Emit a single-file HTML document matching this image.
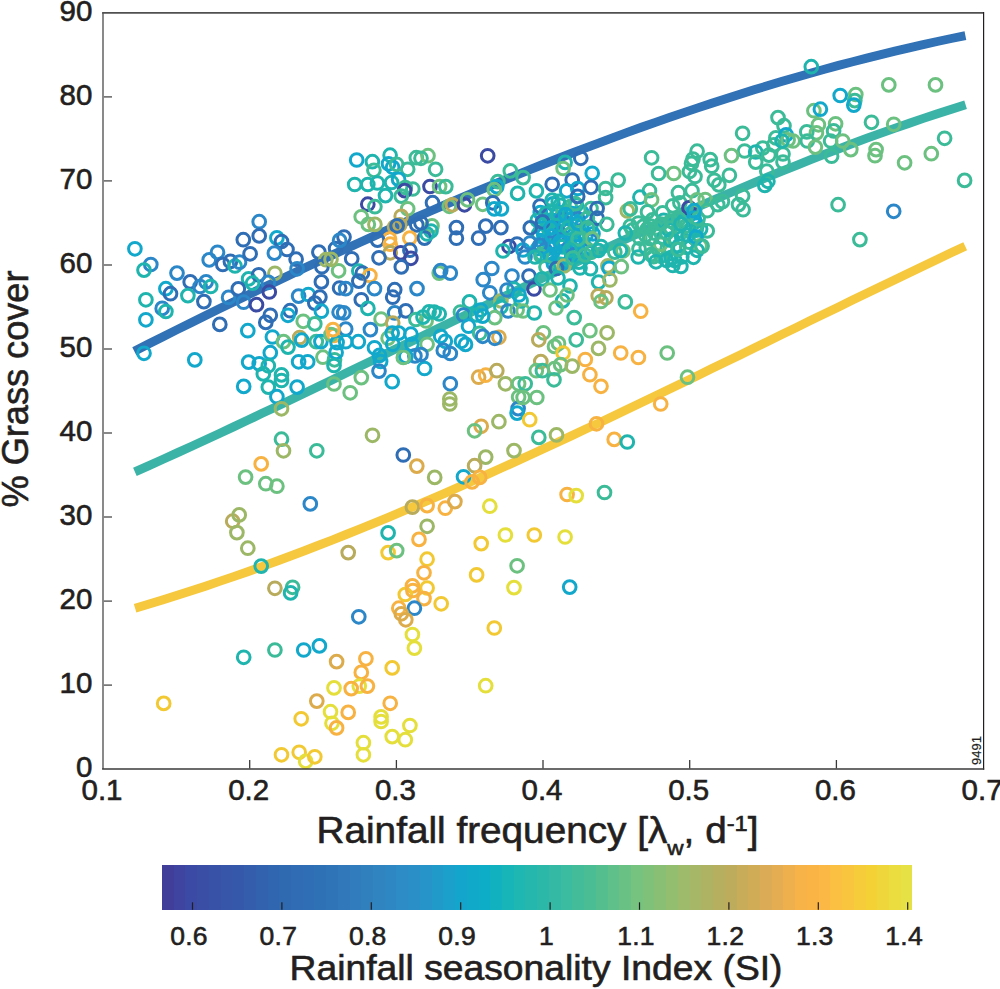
<!DOCTYPE html><html><head><meta charset="utf-8"><style>html,body{margin:0;padding:0;background:#fff;}svg{display:block;}text{font-family:"Liberation Sans",sans-serif;fill:#231f20;stroke:#231f20;stroke-width:0.6px;}</style></head><body>
<svg width="1000" height="989" viewBox="0 0 1000 989">
<path d="M134.3,351.2 L148.4,344.0 L162.5,337.0 L176.6,329.9 L190.6,322.9 L204.7,316.0 L218.8,309.1 L232.9,302.2 L247.0,295.4 L261.1,288.6 L275.2,281.9 L289.3,275.2 L303.3,268.5 L317.4,262.0 L331.5,255.4 L345.6,248.9 L359.7,242.5 L373.8,236.1 L387.9,229.8 L401.9,223.6 L416.0,217.4 L430.1,211.2 L444.2,205.2 L458.3,199.2 L472.4,193.2 L486.5,187.3 L500.5,181.5 L514.6,175.8 L528.7,170.1 L542.8,164.5 L556.9,159.0 L571.0,153.5 L585.1,148.1 L599.2,142.8 L613.2,137.6 L627.3,132.4 L641.4,127.3 L655.5,122.4 L669.6,117.4 L683.7,112.6 L697.8,107.9 L711.8,103.2 L725.9,98.7 L740.0,94.2 L754.1,89.8 L768.2,85.5 L782.3,81.3 L796.4,77.2 L810.4,73.2 L824.5,69.3 L838.6,65.4 L852.7,61.7 L866.8,58.1 L880.9,54.6 L895.0,51.2 L909.1,47.8 L923.1,44.6 L937.2,41.5 L951.3,38.5 L965.4,35.7" fill="none" stroke="#3171b5" stroke-width="8.9" stroke-linecap="butt"/>
<path d="M134.9,471.9 L149.0,465.6 L163.1,459.3 L177.1,452.9 L191.2,446.5 L205.3,440.0 L219.4,433.5 L233.5,426.9 L247.5,420.3 L261.6,413.6 L275.7,406.9 L289.8,400.2 L303.9,393.5 L317.9,386.7 L332.0,379.9 L346.1,373.1 L360.2,366.3 L374.3,359.5 L388.3,352.6 L402.4,345.8 L416.5,339.0 L430.6,332.1 L444.7,325.3 L458.7,318.5 L472.8,311.6 L486.9,304.8 L501.0,298.1 L515.1,291.3 L529.1,284.6 L543.2,277.8 L557.3,271.2 L571.4,264.5 L585.4,257.9 L599.5,251.3 L613.6,244.8 L627.7,238.3 L641.8,231.9 L655.8,225.5 L669.9,219.2 L684.0,212.9 L698.1,206.7 L712.2,200.6 L726.2,194.5 L740.3,188.5 L754.4,182.6 L768.5,176.7 L782.6,170.9 L796.6,165.3 L810.7,159.7 L824.8,154.2 L838.9,148.8 L853.0,143.4 L867.0,138.2 L881.1,133.1 L895.2,128.1 L909.3,123.2 L923.4,118.4 L937.4,113.8 L951.5,109.2 L965.6,104.8" fill="none" stroke="#3bb4a7" stroke-width="8.9" stroke-linecap="butt"/>
<path d="M135.1,608.2 L149.2,604.0 L163.2,599.7 L177.3,595.3 L191.4,590.8 L205.4,586.2 L219.5,581.4 L233.6,576.6 L247.7,571.7 L261.7,566.6 L275.8,561.5 L289.9,556.3 L303.9,551.0 L318.0,545.5 L332.1,540.1 L346.1,534.5 L360.2,528.8 L374.3,523.1 L388.4,517.3 L402.4,511.4 L416.5,505.4 L430.6,499.4 L444.6,493.3 L458.7,487.1 L472.8,480.9 L486.8,474.6 L500.9,468.3 L515.0,461.9 L529.0,455.5 L543.1,449.0 L557.2,442.5 L571.3,435.9 L585.3,429.3 L599.4,422.7 L613.5,416.0 L627.5,409.3 L641.6,402.6 L655.7,395.8 L669.7,389.1 L683.8,382.3 L697.9,375.5 L711.9,368.6 L726.0,361.8 L740.1,354.9 L754.2,348.1 L768.2,341.2 L782.3,334.3 L796.4,327.5 L810.4,320.6 L824.5,313.8 L838.6,306.9 L852.6,300.1 L866.7,293.3 L880.8,286.5 L894.9,279.7 L908.9,272.9 L923.0,266.2 L937.1,259.5 L951.1,252.8 L965.2,246.2" fill="none" stroke="#f6c83e" stroke-width="8.9" stroke-linecap="butt"/>
<g fill="none" stroke-width="3.0">
<circle cx="552.9" cy="203.9" r="6.35" stroke="#12a8cc"/>
<circle cx="560.2" cy="205.3" r="6.35" stroke="#1fb5ae"/>
<circle cx="570.2" cy="206.7" r="6.35" stroke="#3cbb98"/>
<circle cx="576.4" cy="205.0" r="6.35" stroke="#1fb5ae"/>
<circle cx="540.3" cy="212.6" r="6.35" stroke="#12a8cc"/>
<circle cx="550.6" cy="211.0" r="6.35" stroke="#3cbb98"/>
<circle cx="558.1" cy="212.7" r="6.35" stroke="#12a8cc"/>
<circle cx="566.1" cy="212.0" r="6.35" stroke="#3cbb98"/>
<circle cx="572.4" cy="213.7" r="6.35" stroke="#12a8cc"/>
<circle cx="581.9" cy="212.5" r="6.35" stroke="#12a8cc"/>
<circle cx="537.3" cy="220.3" r="6.35" stroke="#1fb5ae"/>
<circle cx="545.6" cy="220.1" r="6.35" stroke="#1fb5ae"/>
<circle cx="552.1" cy="220.4" r="6.35" stroke="#12a8cc"/>
<circle cx="562.1" cy="219.6" r="6.35" stroke="#2b87c8"/>
<circle cx="570.9" cy="219.5" r="6.35" stroke="#12a8cc"/>
<circle cx="577.6" cy="218.7" r="6.35" stroke="#2b87c8"/>
<circle cx="587.0" cy="218.7" r="6.35" stroke="#12a8cc"/>
<circle cx="541.3" cy="228.2" r="6.35" stroke="#12a8cc"/>
<circle cx="548.6" cy="228.5" r="6.35" stroke="#1fb5ae"/>
<circle cx="557.6" cy="225.6" r="6.35" stroke="#1fb5ae"/>
<circle cx="564.5" cy="226.8" r="6.35" stroke="#12a8cc"/>
<circle cx="575.7" cy="225.3" r="6.35" stroke="#1fb5ae"/>
<circle cx="581.6" cy="226.3" r="6.35" stroke="#12a8cc"/>
<circle cx="590.7" cy="226.6" r="6.35" stroke="#1fb5ae"/>
<circle cx="538.7" cy="233.9" r="6.35" stroke="#1fb5ae"/>
<circle cx="543.7" cy="234.7" r="6.35" stroke="#12a8cc"/>
<circle cx="552.7" cy="233.6" r="6.35" stroke="#1fb5ae"/>
<circle cx="560.0" cy="233.9" r="6.35" stroke="#2b87c8"/>
<circle cx="570.3" cy="234.0" r="6.35" stroke="#3cbb98"/>
<circle cx="579.1" cy="232.7" r="6.35" stroke="#3cbb98"/>
<circle cx="585.9" cy="235.5" r="6.35" stroke="#12a8cc"/>
<circle cx="593.0" cy="233.8" r="6.35" stroke="#12a8cc"/>
<circle cx="542.6" cy="242.3" r="6.35" stroke="#12a8cc"/>
<circle cx="550.1" cy="243.0" r="6.35" stroke="#2b87c8"/>
<circle cx="559.2" cy="239.9" r="6.35" stroke="#2b87c8"/>
<circle cx="564.5" cy="241.8" r="6.35" stroke="#12a8cc"/>
<circle cx="573.9" cy="241.5" r="6.35" stroke="#12a8cc"/>
<circle cx="581.4" cy="239.9" r="6.35" stroke="#1fb5ae"/>
<circle cx="590.8" cy="240.5" r="6.35" stroke="#2b87c8"/>
<circle cx="537.8" cy="248.5" r="6.35" stroke="#12a8cc"/>
<circle cx="545.1" cy="249.7" r="6.35" stroke="#2b87c8"/>
<circle cx="553.1" cy="248.0" r="6.35" stroke="#12a8cc"/>
<circle cx="562.2" cy="246.8" r="6.35" stroke="#1fb5ae"/>
<circle cx="571.6" cy="248.2" r="6.35" stroke="#1fb5ae"/>
<circle cx="577.5" cy="246.8" r="6.35" stroke="#12a8cc"/>
<circle cx="586.5" cy="248.5" r="6.35" stroke="#1fb5ae"/>
<circle cx="541.6" cy="254.1" r="6.35" stroke="#3cbb98"/>
<circle cx="549.8" cy="254.3" r="6.35" stroke="#12a8cc"/>
<circle cx="559.2" cy="256.0" r="6.35" stroke="#12a8cc"/>
<circle cx="564.4" cy="256.9" r="6.35" stroke="#12a8cc"/>
<circle cx="573.9" cy="254.9" r="6.35" stroke="#2b87c8"/>
<circle cx="580.8" cy="255.0" r="6.35" stroke="#12a8cc"/>
<circle cx="553.4" cy="263.5" r="6.35" stroke="#12a8cc"/>
<circle cx="560.6" cy="264.4" r="6.35" stroke="#1fb5ae"/>
<circle cx="568.6" cy="263.0" r="6.35" stroke="#12a8cc"/>
<circle cx="579.0" cy="262.1" r="6.35" stroke="#1fb5ae"/>
<circle cx="652.5" cy="219.9" r="6.35" stroke="#3cbb98"/>
<circle cx="663.7" cy="220.3" r="6.35" stroke="#1fb5ae"/>
<circle cx="672.9" cy="221.8" r="6.35" stroke="#3cbb98"/>
<circle cx="683.7" cy="221.2" r="6.35" stroke="#1fb5ae"/>
<circle cx="694.9" cy="221.9" r="6.35" stroke="#1fb5ae"/>
<circle cx="647.6" cy="228.5" r="6.35" stroke="#3cbb98"/>
<circle cx="656.5" cy="227.9" r="6.35" stroke="#3cbb98"/>
<circle cx="668.5" cy="229.5" r="6.35" stroke="#1fb5ae"/>
<circle cx="678.7" cy="231.2" r="6.35" stroke="#3cbb98"/>
<circle cx="689.6" cy="230.4" r="6.35" stroke="#3cbb98"/>
<circle cx="700.6" cy="229.1" r="6.35" stroke="#1fb5ae"/>
<circle cx="639.8" cy="238.3" r="6.35" stroke="#3cbb98"/>
<circle cx="650.7" cy="238.8" r="6.35" stroke="#6dc180"/>
<circle cx="663.5" cy="238.3" r="6.35" stroke="#1fb5ae"/>
<circle cx="672.2" cy="238.9" r="6.35" stroke="#1fb5ae"/>
<circle cx="681.9" cy="238.0" r="6.35" stroke="#1fb5ae"/>
<circle cx="694.7" cy="238.3" r="6.35" stroke="#1fb5ae"/>
<circle cx="646.3" cy="247.7" r="6.35" stroke="#3cbb98"/>
<circle cx="658.1" cy="248.9" r="6.35" stroke="#3cbb98"/>
<circle cx="667.4" cy="248.1" r="6.35" stroke="#3cbb98"/>
<circle cx="678.8" cy="246.0" r="6.35" stroke="#1fb5ae"/>
<circle cx="686.8" cy="247.5" r="6.35" stroke="#3cbb98"/>
<circle cx="700.1" cy="245.9" r="6.35" stroke="#6dc180"/>
<circle cx="653.5" cy="256.6" r="6.35" stroke="#3cbb98"/>
<circle cx="661.0" cy="256.2" r="6.35" stroke="#3cbb98"/>
<circle cx="671.0" cy="257.7" r="6.35" stroke="#1fb5ae"/>
<circle cx="681.8" cy="256.9" r="6.35" stroke="#1fb5ae"/>
<circle cx="693.5" cy="257.3" r="6.35" stroke="#1fb5ae"/>
<circle cx="134.9" cy="248.8" r="6.35" stroke="#12a8cc"/>
<circle cx="150.8" cy="264.5" r="6.35" stroke="#2b87c8"/>
<circle cx="144.0" cy="270.1" r="6.35" stroke="#1fb5ae"/>
<circle cx="177.0" cy="273.1" r="6.35" stroke="#2b87c8"/>
<circle cx="145.9" cy="299.8" r="6.35" stroke="#1fb5ae"/>
<circle cx="165.9" cy="288.7" r="6.35" stroke="#12a8cc"/>
<circle cx="170.5" cy="293.7" r="6.35" stroke="#2f6db4"/>
<circle cx="162.2" cy="308.4" r="6.35" stroke="#2b87c8"/>
<circle cx="165.9" cy="311.5" r="6.35" stroke="#1fb5ae"/>
<circle cx="145.9" cy="319.8" r="6.35" stroke="#12a8cc"/>
<circle cx="190.2" cy="281.9" r="6.35" stroke="#2f6db4"/>
<circle cx="187.9" cy="295.6" r="6.35" stroke="#1fb5ae"/>
<circle cx="203.9" cy="301.6" r="6.35" stroke="#2f6db4"/>
<circle cx="200.1" cy="286.5" r="6.35" stroke="#2b87c8"/>
<circle cx="206.1" cy="281.9" r="6.35" stroke="#2b87c8"/>
<circle cx="210.7" cy="286.5" r="6.35" stroke="#1fb5ae"/>
<circle cx="209.2" cy="259.9" r="6.35" stroke="#2b87c8"/>
<circle cx="217.5" cy="252.3" r="6.35" stroke="#2b87c8"/>
<circle cx="222.8" cy="264.5" r="6.35" stroke="#2f6db4"/>
<circle cx="230.4" cy="261.4" r="6.35" stroke="#2f6db4"/>
<circle cx="235.0" cy="266.0" r="6.35" stroke="#1fb5ae"/>
<circle cx="239.5" cy="262.2" r="6.35" stroke="#2b87c8"/>
<circle cx="243.3" cy="239.7" r="6.35" stroke="#2f6db4"/>
<circle cx="250.1" cy="253.8" r="6.35" stroke="#2f6db4"/>
<circle cx="219.8" cy="324.4" r="6.35" stroke="#2f6db4"/>
<circle cx="247.8" cy="330.7" r="6.35" stroke="#12a8cc"/>
<circle cx="248.6" cy="278.9" r="6.35" stroke="#1fb5ae"/>
<circle cx="144.0" cy="353.3" r="6.35" stroke="#12a8cc"/>
<circle cx="194.8" cy="359.9" r="6.35" stroke="#12a8cc"/>
<circle cx="248.6" cy="362.1" r="6.35" stroke="#12a8cc"/>
<circle cx="243.7" cy="386.4" r="6.35" stroke="#12a8cc"/>
<circle cx="245.6" cy="477.1" r="6.35" stroke="#6dc180"/>
<circle cx="232.7" cy="521.2" r="6.35" stroke="#b8ab5b"/>
<circle cx="239.2" cy="514.9" r="6.35" stroke="#9cb866"/>
<circle cx="236.9" cy="532.6" r="6.35" stroke="#9cb866"/>
<circle cx="247.8" cy="548.2" r="6.35" stroke="#9cb866"/>
<circle cx="243.7" cy="657.3" r="6.35" stroke="#1fb5ae"/>
<circle cx="163.7" cy="703.4" r="6.35" stroke="#f2c933"/>
<circle cx="356.7" cy="160.0" r="6.35" stroke="#12a8cc"/>
<circle cx="372.4" cy="161.7" r="6.35" stroke="#1fb5ae"/>
<circle cx="373.9" cy="170.3" r="6.35" stroke="#3cbb98"/>
<circle cx="390.1" cy="155.2" r="6.35" stroke="#1fb5ae"/>
<circle cx="388.5" cy="163.8" r="6.35" stroke="#12a8cc"/>
<circle cx="392.6" cy="167.3" r="6.35" stroke="#12a8cc"/>
<circle cx="396.6" cy="164.3" r="6.35" stroke="#3cbb98"/>
<circle cx="407.7" cy="169.3" r="6.35" stroke="#3cbb98"/>
<circle cx="416.3" cy="157.7" r="6.35" stroke="#3cbb98"/>
<circle cx="428.0" cy="155.7" r="6.35" stroke="#6dc180"/>
<circle cx="435.6" cy="169.3" r="6.35" stroke="#3cbb98"/>
<circle cx="354.7" cy="184.5" r="6.35" stroke="#1fb5ae"/>
<circle cx="367.8" cy="184.5" r="6.35" stroke="#1fb5ae"/>
<circle cx="377.4" cy="183.0" r="6.35" stroke="#1fb5ae"/>
<circle cx="391.6" cy="182.5" r="6.35" stroke="#1fb5ae"/>
<circle cx="398.6" cy="179.4" r="6.35" stroke="#12a8cc"/>
<circle cx="405.2" cy="187.5" r="6.35" stroke="#3cbb98"/>
<circle cx="412.8" cy="189.0" r="6.35" stroke="#3cbb98"/>
<circle cx="404.7" cy="190.6" r="6.35" stroke="#3b4aa2"/>
<circle cx="430.0" cy="186.5" r="6.35" stroke="#3b4aa2"/>
<circle cx="385.5" cy="195.6" r="6.35" stroke="#1fb5ae"/>
<circle cx="401.2" cy="196.1" r="6.35" stroke="#3cbb98"/>
<circle cx="367.8" cy="204.2" r="6.35" stroke="#3b4aa2"/>
<circle cx="374.9" cy="206.7" r="6.35" stroke="#3cbb98"/>
<circle cx="407.7" cy="208.8" r="6.35" stroke="#6dc180"/>
<circle cx="361.2" cy="216.8" r="6.35" stroke="#6dc180"/>
<circle cx="368.3" cy="224.4" r="6.35" stroke="#6dc180"/>
<circle cx="374.9" cy="224.4" r="6.35" stroke="#9cb866"/>
<circle cx="394.6" cy="227.0" r="6.35" stroke="#b8ab5b"/>
<circle cx="401.2" cy="216.3" r="6.35" stroke="#b8ab5b"/>
<circle cx="399.7" cy="224.9" r="6.35" stroke="#b8ab5b"/>
<circle cx="397.1" cy="225.9" r="6.35" stroke="#2f6db4"/>
<circle cx="432.5" cy="202.7" r="6.35" stroke="#2f6db4"/>
<circle cx="416.8" cy="224.9" r="6.35" stroke="#2f6db4"/>
<circle cx="432.0" cy="225.9" r="6.35" stroke="#6dc180"/>
<circle cx="431.0" cy="231.0" r="6.35" stroke="#1fb5ae"/>
<circle cx="344.0" cy="237.1" r="6.35" stroke="#2f6db4"/>
<circle cx="389.5" cy="239.1" r="6.35" stroke="#f7b241"/>
<circle cx="409.8" cy="238.1" r="6.35" stroke="#f7b241"/>
<circle cx="439.6" cy="186.5" r="6.35" stroke="#6dc180"/>
<circle cx="259.2" cy="221.7" r="6.35" stroke="#2b87c8"/>
<circle cx="259.2" cy="235.9" r="6.35" stroke="#2f6db4"/>
<circle cx="276.9" cy="237.9" r="6.35" stroke="#12a8cc"/>
<circle cx="281.5" cy="241.5" r="6.35" stroke="#2f6db4"/>
<circle cx="287.0" cy="249.5" r="6.35" stroke="#2f6db4"/>
<circle cx="274.4" cy="253.1" r="6.35" stroke="#2b87c8"/>
<circle cx="296.1" cy="259.2" r="6.35" stroke="#2f6db4"/>
<circle cx="297.1" cy="268.8" r="6.35" stroke="#2b87c8"/>
<circle cx="318.9" cy="252.1" r="6.35" stroke="#2f6db4"/>
<circle cx="325.9" cy="259.7" r="6.35" stroke="#9cb866"/>
<circle cx="321.9" cy="266.7" r="6.35" stroke="#2f6db4"/>
<circle cx="335.6" cy="248.5" r="6.35" stroke="#2f6db4"/>
<circle cx="339.6" cy="240.4" r="6.35" stroke="#2b87c8"/>
<circle cx="338.6" cy="270.8" r="6.35" stroke="#6dc180"/>
<circle cx="321.4" cy="281.9" r="6.35" stroke="#2f6db4"/>
<circle cx="339.6" cy="288.0" r="6.35" stroke="#2f6db4"/>
<circle cx="274.9" cy="273.3" r="6.35" stroke="#9cb866"/>
<circle cx="258.7" cy="274.8" r="6.35" stroke="#2f6db4"/>
<circle cx="268.3" cy="282.4" r="6.35" stroke="#2b87c8"/>
<circle cx="269.3" cy="292.0" r="6.35" stroke="#3b4aa2"/>
<circle cx="298.6" cy="296.1" r="6.35" stroke="#2b87c8"/>
<circle cx="308.3" cy="294.5" r="6.35" stroke="#12a8cc"/>
<circle cx="319.9" cy="297.1" r="6.35" stroke="#2f6db4"/>
<circle cx="270.3" cy="315.3" r="6.35" stroke="#2f6db4"/>
<circle cx="265.8" cy="322.4" r="6.35" stroke="#2f6db4"/>
<circle cx="290.1" cy="310.7" r="6.35" stroke="#2f6db4"/>
<circle cx="288.0" cy="315.3" r="6.35" stroke="#12a8cc"/>
<circle cx="314.8" cy="303.1" r="6.35" stroke="#2f6db4"/>
<circle cx="321.4" cy="311.2" r="6.35" stroke="#12a8cc"/>
<circle cx="339.1" cy="312.2" r="6.35" stroke="#2b87c8"/>
<circle cx="303.2" cy="321.3" r="6.35" stroke="#6dc180"/>
<circle cx="314.8" cy="323.9" r="6.35" stroke="#3cbb98"/>
<circle cx="272.4" cy="337.0" r="6.35" stroke="#12a8cc"/>
<circle cx="283.5" cy="341.6" r="6.35" stroke="#6dc180"/>
<circle cx="288.0" cy="347.1" r="6.35" stroke="#1fb5ae"/>
<circle cx="299.7" cy="337.5" r="6.35" stroke="#b8ab5b"/>
<circle cx="301.7" cy="340.1" r="6.35" stroke="#12a8cc"/>
<circle cx="316.3" cy="341.6" r="6.35" stroke="#3cbb98"/>
<circle cx="320.9" cy="341.6" r="6.35" stroke="#12a8cc"/>
<circle cx="334.0" cy="335.5" r="6.35" stroke="#f7b241"/>
<circle cx="331.0" cy="334.5" r="6.35" stroke="#6dc180"/>
<circle cx="337.1" cy="342.6" r="6.35" stroke="#12a8cc"/>
<circle cx="270.3" cy="352.7" r="6.35" stroke="#12a8cc"/>
<circle cx="259.2" cy="363.8" r="6.35" stroke="#12a8cc"/>
<circle cx="268.3" cy="365.8" r="6.35" stroke="#1fb5ae"/>
<circle cx="263.3" cy="373.9" r="6.35" stroke="#1fb5ae"/>
<circle cx="281.5" cy="374.9" r="6.35" stroke="#1fb5ae"/>
<circle cx="298.6" cy="361.8" r="6.35" stroke="#12a8cc"/>
<circle cx="307.7" cy="361.8" r="6.35" stroke="#12a8cc"/>
<circle cx="322.9" cy="357.2" r="6.35" stroke="#6dc180"/>
<circle cx="334.5" cy="359.8" r="6.35" stroke="#3cbb98"/>
<circle cx="268.3" cy="387.1" r="6.35" stroke="#1fb5ae"/>
<circle cx="297.1" cy="387.1" r="6.35" stroke="#12a8cc"/>
<circle cx="334.0" cy="384.0" r="6.35" stroke="#6dc180"/>
<circle cx="281.5" cy="380.5" r="6.35" stroke="#1fb5ae"/>
<circle cx="276.9" cy="396.7" r="6.35" stroke="#12a8cc"/>
<circle cx="281.5" cy="408.8" r="6.35" stroke="#9cb866"/>
<circle cx="281.5" cy="439.2" r="6.35" stroke="#3cbb98"/>
<circle cx="283.5" cy="450.8" r="6.35" stroke="#9cb866"/>
<circle cx="316.8" cy="450.8" r="6.35" stroke="#3cbb98"/>
<circle cx="261.2" cy="463.9" r="6.35" stroke="#f7b241"/>
<circle cx="265.8" cy="483.7" r="6.35" stroke="#6dc180"/>
<circle cx="276.9" cy="486.2" r="6.35" stroke="#6dc180"/>
<circle cx="310.3" cy="503.9" r="6.35" stroke="#2b87c8"/>
<circle cx="261.2" cy="566.1" r="6.35" stroke="#1fb5ae"/>
<circle cx="274.9" cy="588.3" r="6.35" stroke="#b8ab5b"/>
<circle cx="292.6" cy="587.3" r="6.35" stroke="#3cbb98"/>
<circle cx="290.6" cy="592.9" r="6.35" stroke="#1fb5ae"/>
<circle cx="274.9" cy="650.0" r="6.35" stroke="#3cbb98"/>
<circle cx="303.7" cy="650.0" r="6.35" stroke="#12a8cc"/>
<circle cx="319.4" cy="645.9" r="6.35" stroke="#12a8cc"/>
<circle cx="336.6" cy="661.6" r="6.35" stroke="#dcab4c"/>
<circle cx="334.0" cy="687.9" r="6.35" stroke="#e5df3c"/>
<circle cx="316.8" cy="701.1" r="6.35" stroke="#dcab4c"/>
<circle cx="301.2" cy="718.8" r="6.35" stroke="#f2c933"/>
<circle cx="330.5" cy="711.7" r="6.35" stroke="#e5df3c"/>
<circle cx="332.0" cy="723.3" r="6.35" stroke="#e5df3c"/>
<circle cx="336.6" cy="727.9" r="6.35" stroke="#f7b241"/>
<circle cx="281.5" cy="754.8" r="6.35" stroke="#f2c933"/>
<circle cx="299.2" cy="752.3" r="6.35" stroke="#f2c933"/>
<circle cx="305.7" cy="761.4" r="6.35" stroke="#e5df3c"/>
<circle cx="314.8" cy="756.8" r="6.35" stroke="#f2c933"/>
<circle cx="351.7" cy="258.8" r="6.35" stroke="#2f6db4"/>
<circle cx="331.0" cy="259.3" r="6.35" stroke="#9cb866"/>
<circle cx="377.5" cy="240.1" r="6.35" stroke="#2f6db4"/>
<circle cx="390.2" cy="244.2" r="6.35" stroke="#f7b241"/>
<circle cx="390.2" cy="252.8" r="6.35" stroke="#b8ab5b"/>
<circle cx="400.8" cy="252.8" r="6.35" stroke="#3b4aa2"/>
<circle cx="409.9" cy="250.2" r="6.35" stroke="#2f6db4"/>
<circle cx="410.9" cy="258.3" r="6.35" stroke="#3b4aa2"/>
<circle cx="379.0" cy="257.8" r="6.35" stroke="#2f6db4"/>
<circle cx="401.3" cy="266.9" r="6.35" stroke="#2f6db4"/>
<circle cx="424.5" cy="238.1" r="6.35" stroke="#2f6db4"/>
<circle cx="427.1" cy="234.0" r="6.35" stroke="#1fb5ae"/>
<circle cx="358.8" cy="271.0" r="6.35" stroke="#1fb5ae"/>
<circle cx="362.4" cy="273.0" r="6.35" stroke="#2f6db4"/>
<circle cx="369.9" cy="275.5" r="6.35" stroke="#f7b241"/>
<circle cx="358.8" cy="281.1" r="6.35" stroke="#2f6db4"/>
<circle cx="345.7" cy="288.6" r="6.35" stroke="#2b87c8"/>
<circle cx="374.5" cy="288.6" r="6.35" stroke="#2b87c8"/>
<circle cx="394.7" cy="289.7" r="6.35" stroke="#2f6db4"/>
<circle cx="392.7" cy="297.2" r="6.35" stroke="#2f6db4"/>
<circle cx="417.0" cy="288.6" r="6.35" stroke="#2b87c8"/>
<circle cx="361.3" cy="299.8" r="6.35" stroke="#2f6db4"/>
<circle cx="367.9" cy="308.4" r="6.35" stroke="#1fb5ae"/>
<circle cx="343.7" cy="312.9" r="6.35" stroke="#2b87c8"/>
<circle cx="394.7" cy="312.9" r="6.35" stroke="#2b87c8"/>
<circle cx="405.8" cy="310.9" r="6.35" stroke="#2f6db4"/>
<circle cx="381.1" cy="319.0" r="6.35" stroke="#6dc180"/>
<circle cx="392.7" cy="323.0" r="6.35" stroke="#b8ab5b"/>
<circle cx="415.9" cy="319.5" r="6.35" stroke="#3cbb98"/>
<circle cx="426.1" cy="321.0" r="6.35" stroke="#6dc180"/>
<circle cx="429.1" cy="311.9" r="6.35" stroke="#1fb5ae"/>
<circle cx="345.7" cy="329.1" r="6.35" stroke="#2b87c8"/>
<circle cx="370.4" cy="329.6" r="6.35" stroke="#2b87c8"/>
<circle cx="333.0" cy="329.6" r="6.35" stroke="#f7b241"/>
<circle cx="358.3" cy="341.7" r="6.35" stroke="#12a8cc"/>
<circle cx="345.7" cy="341.7" r="6.35" stroke="#12a8cc"/>
<circle cx="336.1" cy="352.4" r="6.35" stroke="#12a8cc"/>
<circle cx="334.0" cy="365.5" r="6.35" stroke="#1fb5ae"/>
<circle cx="374.5" cy="347.8" r="6.35" stroke="#12a8cc"/>
<circle cx="379.5" cy="355.4" r="6.35" stroke="#12a8cc"/>
<circle cx="380.6" cy="361.5" r="6.35" stroke="#12a8cc"/>
<circle cx="379.0" cy="371.1" r="6.35" stroke="#2b87c8"/>
<circle cx="392.2" cy="381.7" r="6.35" stroke="#12a8cc"/>
<circle cx="388.1" cy="338.2" r="6.35" stroke="#6dc180"/>
<circle cx="392.2" cy="333.1" r="6.35" stroke="#12a8cc"/>
<circle cx="410.9" cy="334.2" r="6.35" stroke="#12a8cc"/>
<circle cx="411.9" cy="344.3" r="6.35" stroke="#12a8cc"/>
<circle cx="414.9" cy="355.9" r="6.35" stroke="#2b87c8"/>
<circle cx="405.8" cy="356.4" r="6.35" stroke="#12a8cc"/>
<circle cx="403.3" cy="357.4" r="6.35" stroke="#6dc180"/>
<circle cx="427.1" cy="344.3" r="6.35" stroke="#6dc180"/>
<circle cx="424.5" cy="368.5" r="6.35" stroke="#12a8cc"/>
<circle cx="392.7" cy="344.3" r="6.35" stroke="#12a8cc"/>
<circle cx="361.3" cy="377.6" r="6.35" stroke="#6dc180"/>
<circle cx="350.2" cy="392.8" r="6.35" stroke="#6dc180"/>
<circle cx="398.8" cy="333.1" r="6.35" stroke="#12a8cc"/>
<circle cx="372.5" cy="435.3" r="6.35" stroke="#9cb866"/>
<circle cx="403.3" cy="455.0" r="6.35" stroke="#2f6db4"/>
<circle cx="416.8" cy="466.1" r="6.35" stroke="#dcab4c"/>
<circle cx="412.4" cy="507.1" r="6.35" stroke="#b8ab5b"/>
<circle cx="427.1" cy="505.6" r="6.35" stroke="#f7b241"/>
<circle cx="427.1" cy="526.3" r="6.35" stroke="#9cb866"/>
<circle cx="388.1" cy="532.9" r="6.35" stroke="#1fb5ae"/>
<circle cx="419.0" cy="539.4" r="6.35" stroke="#f7b241"/>
<circle cx="348.2" cy="552.6" r="6.35" stroke="#b8ab5b"/>
<circle cx="388.1" cy="552.6" r="6.35" stroke="#f2c933"/>
<circle cx="396.7" cy="550.6" r="6.35" stroke="#6dc180"/>
<circle cx="427.1" cy="559.2" r="6.35" stroke="#f2c933"/>
<circle cx="424.0" cy="572.8" r="6.35" stroke="#f7b241"/>
<circle cx="412.4" cy="585.9" r="6.35" stroke="#f7b241"/>
<circle cx="405.3" cy="594.5" r="6.35" stroke="#f2c933"/>
<circle cx="427.1" cy="588.0" r="6.35" stroke="#f2c933"/>
<circle cx="424.0" cy="598.6" r="6.35" stroke="#f7b241"/>
<circle cx="358.8" cy="616.8" r="6.35" stroke="#2b87c8"/>
<circle cx="412.9" cy="590.5" r="6.35" stroke="#f7b241"/>
<circle cx="414.4" cy="608.2" r="6.35" stroke="#2b87c8"/>
<circle cx="398.8" cy="608.2" r="6.35" stroke="#f7b241"/>
<circle cx="401.3" cy="613.8" r="6.35" stroke="#dcab4c"/>
<circle cx="405.8" cy="619.8" r="6.35" stroke="#dcab4c"/>
<circle cx="412.4" cy="634.5" r="6.35" stroke="#e5df3c"/>
<circle cx="414.4" cy="648.1" r="6.35" stroke="#e5df3c"/>
<circle cx="365.9" cy="658.8" r="6.35" stroke="#f7b241"/>
<circle cx="361.3" cy="672.4" r="6.35" stroke="#f7b241"/>
<circle cx="392.2" cy="667.9" r="6.35" stroke="#f2c933"/>
<circle cx="359.3" cy="686.1" r="6.35" stroke="#e5df3c"/>
<circle cx="367.4" cy="686.1" r="6.35" stroke="#f7b241"/>
<circle cx="351.2" cy="688.6" r="6.35" stroke="#f7b241"/>
<circle cx="348.2" cy="712.4" r="6.35" stroke="#f7b241"/>
<circle cx="390.2" cy="703.3" r="6.35" stroke="#f7b241"/>
<circle cx="381.1" cy="716.9" r="6.35" stroke="#e5df3c"/>
<circle cx="381.1" cy="721.5" r="6.35" stroke="#e5df3c"/>
<circle cx="409.9" cy="725.5" r="6.35" stroke="#e5df3c"/>
<circle cx="392.2" cy="736.6" r="6.35" stroke="#e5df3c"/>
<circle cx="405.3" cy="739.7" r="6.35" stroke="#e5df3c"/>
<circle cx="363.4" cy="742.7" r="6.35" stroke="#e5df3c"/>
<circle cx="363.4" cy="754.8" r="6.35" stroke="#e5df3c"/>
<circle cx="421.0" cy="158.3" r="6.35" stroke="#3cbb98"/>
<circle cx="445.8" cy="186.6" r="6.35" stroke="#3cbb98"/>
<circle cx="487.7" cy="155.8" r="6.35" stroke="#3b4aa2"/>
<circle cx="497.9" cy="181.6" r="6.35" stroke="#3cbb98"/>
<circle cx="496.8" cy="186.6" r="6.35" stroke="#12a8cc"/>
<circle cx="494.3" cy="189.7" r="6.35" stroke="#6dc180"/>
<circle cx="449.3" cy="206.3" r="6.35" stroke="#6dc180"/>
<circle cx="452.4" cy="204.8" r="6.35" stroke="#b8ab5b"/>
<circle cx="464.5" cy="204.8" r="6.35" stroke="#3b4aa2"/>
<circle cx="467.5" cy="199.8" r="6.35" stroke="#6dc180"/>
<circle cx="482.7" cy="204.3" r="6.35" stroke="#6dc180"/>
<circle cx="492.8" cy="202.8" r="6.35" stroke="#2f6db4"/>
<circle cx="494.3" cy="208.9" r="6.35" stroke="#12a8cc"/>
<circle cx="501.4" cy="208.9" r="6.35" stroke="#12a8cc"/>
<circle cx="421.0" cy="223.0" r="6.35" stroke="#2f6db4"/>
<circle cx="456.4" cy="227.6" r="6.35" stroke="#2f6db4"/>
<circle cx="485.7" cy="226.1" r="6.35" stroke="#2f6db4"/>
<circle cx="500.9" cy="227.6" r="6.35" stroke="#2f6db4"/>
<circle cx="456.4" cy="238.2" r="6.35" stroke="#2f6db4"/>
<circle cx="478.6" cy="238.2" r="6.35" stroke="#2f6db4"/>
<circle cx="439.2" cy="273.1" r="6.35" stroke="#6dc180"/>
<circle cx="440.7" cy="270.6" r="6.35" stroke="#2b87c8"/>
<circle cx="450.3" cy="273.1" r="6.35" stroke="#2b87c8"/>
<circle cx="491.8" cy="268.5" r="6.35" stroke="#2b87c8"/>
<circle cx="483.2" cy="279.7" r="6.35" stroke="#2b87c8"/>
<circle cx="489.8" cy="292.8" r="6.35" stroke="#2b87c8"/>
<circle cx="469.5" cy="301.9" r="6.35" stroke="#1fb5ae"/>
<circle cx="500.9" cy="300.9" r="6.35" stroke="#9cb866"/>
<circle cx="500.9" cy="307.0" r="6.35" stroke="#1fb5ae"/>
<circle cx="508.0" cy="311.0" r="6.35" stroke="#2b87c8"/>
<circle cx="517.1" cy="310.0" r="6.35" stroke="#6dc180"/>
<circle cx="434.2" cy="312.0" r="6.35" stroke="#1fb5ae"/>
<circle cx="439.2" cy="314.0" r="6.35" stroke="#1fb5ae"/>
<circle cx="460.4" cy="312.0" r="6.35" stroke="#3cbb98"/>
<circle cx="463.5" cy="315.0" r="6.35" stroke="#2b87c8"/>
<circle cx="480.7" cy="310.0" r="6.35" stroke="#12a8cc"/>
<circle cx="476.6" cy="315.0" r="6.35" stroke="#1fb5ae"/>
<circle cx="494.8" cy="317.6" r="6.35" stroke="#6dc180"/>
<circle cx="423.0" cy="317.1" r="6.35" stroke="#1fb5ae"/>
<circle cx="468.5" cy="326.2" r="6.35" stroke="#12a8cc"/>
<circle cx="479.7" cy="333.3" r="6.35" stroke="#3cbb98"/>
<circle cx="482.7" cy="336.3" r="6.35" stroke="#2b87c8"/>
<circle cx="482.7" cy="316.1" r="6.35" stroke="#12a8cc"/>
<circle cx="498.9" cy="337.3" r="6.35" stroke="#dcab4c"/>
<circle cx="494.8" cy="338.3" r="6.35" stroke="#2b87c8"/>
<circle cx="440.7" cy="336.3" r="6.35" stroke="#12a8cc"/>
<circle cx="445.3" cy="341.3" r="6.35" stroke="#12a8cc"/>
<circle cx="443.3" cy="350.4" r="6.35" stroke="#2b87c8"/>
<circle cx="450.3" cy="353.5" r="6.35" stroke="#2b87c8"/>
<circle cx="461.5" cy="341.3" r="6.35" stroke="#12a8cc"/>
<circle cx="465.5" cy="344.4" r="6.35" stroke="#12a8cc"/>
<circle cx="421.0" cy="354.5" r="6.35" stroke="#2b87c8"/>
<circle cx="450.3" cy="383.8" r="6.35" stroke="#2b87c8"/>
<circle cx="449.8" cy="399.0" r="6.35" stroke="#9cb866"/>
<circle cx="449.8" cy="404.0" r="6.35" stroke="#9cb866"/>
<circle cx="478.6" cy="377.2" r="6.35" stroke="#dcab4c"/>
<circle cx="485.7" cy="375.2" r="6.35" stroke="#f7b241"/>
<circle cx="496.8" cy="370.7" r="6.35" stroke="#b8ab5b"/>
<circle cx="505.4" cy="383.8" r="6.35" stroke="#9cb866"/>
<circle cx="518.6" cy="383.8" r="6.35" stroke="#6dc180"/>
<circle cx="518.6" cy="397.0" r="6.35" stroke="#6dc180"/>
<circle cx="518.1" cy="408.6" r="6.35" stroke="#2b87c8"/>
<circle cx="517.1" cy="413.1" r="6.35" stroke="#12a8cc"/>
<circle cx="481.2" cy="426.3" r="6.35" stroke="#dcab4c"/>
<circle cx="474.6" cy="430.8" r="6.35" stroke="#6dc180"/>
<circle cx="498.9" cy="421.7" r="6.35" stroke="#9cb866"/>
<circle cx="514.0" cy="450.6" r="6.35" stroke="#9cb866"/>
<circle cx="485.7" cy="457.1" r="6.35" stroke="#9cb866"/>
<circle cx="474.6" cy="465.7" r="6.35" stroke="#b8ab5b"/>
<circle cx="463.5" cy="476.8" r="6.35" stroke="#12a8cc"/>
<circle cx="472.1" cy="481.9" r="6.35" stroke="#f7b241"/>
<circle cx="479.7" cy="477.4" r="6.35" stroke="#f7b241"/>
<circle cx="434.7" cy="477.4" r="6.35" stroke="#9cb866"/>
<circle cx="445.3" cy="508.2" r="6.35" stroke="#f7b241"/>
<circle cx="454.9" cy="501.6" r="6.35" stroke="#dcab4c"/>
<circle cx="489.8" cy="506.2" r="6.35" stroke="#e5df3c"/>
<circle cx="481.2" cy="543.6" r="6.35" stroke="#f2c933"/>
<circle cx="505.4" cy="535.0" r="6.35" stroke="#e5df3c"/>
<circle cx="476.6" cy="574.9" r="6.35" stroke="#f2c933"/>
<circle cx="517.1" cy="565.8" r="6.35" stroke="#6dc180"/>
<circle cx="514.0" cy="587.6" r="6.35" stroke="#e5df3c"/>
<circle cx="441.2" cy="603.8" r="6.35" stroke="#f2c933"/>
<circle cx="494.3" cy="628.0" r="6.35" stroke="#f2c933"/>
<circle cx="485.7" cy="685.7" r="6.35" stroke="#e5df3c"/>
<circle cx="565.1" cy="162.4" r="6.35" stroke="#1fb5ae"/>
<circle cx="580.8" cy="158.3" r="6.35" stroke="#2f6db4"/>
<circle cx="521.1" cy="300.9" r="6.35" stroke="#1fb5ae"/>
<circle cx="562.6" cy="300.9" r="6.35" stroke="#1fb5ae"/>
<circle cx="523.1" cy="311.0" r="6.35" stroke="#6dc180"/>
<circle cx="534.3" cy="313.0" r="6.35" stroke="#1fb5ae"/>
<circle cx="556.0" cy="308.0" r="6.35" stroke="#6dc180"/>
<circle cx="574.2" cy="317.6" r="6.35" stroke="#3cbb98"/>
<circle cx="589.9" cy="330.7" r="6.35" stroke="#6dc180"/>
<circle cx="607.1" cy="332.8" r="6.35" stroke="#9cb866"/>
<circle cx="543.4" cy="332.8" r="6.35" stroke="#6dc180"/>
<circle cx="538.8" cy="339.8" r="6.35" stroke="#b8ab5b"/>
<circle cx="554.5" cy="346.4" r="6.35" stroke="#6dc180"/>
<circle cx="558.5" cy="343.4" r="6.35" stroke="#6dc180"/>
<circle cx="576.2" cy="339.8" r="6.35" stroke="#3cbb98"/>
<circle cx="563.1" cy="353.0" r="6.35" stroke="#f2c933"/>
<circle cx="598.5" cy="348.4" r="6.35" stroke="#9cb866"/>
<circle cx="585.3" cy="359.5" r="6.35" stroke="#f7b241"/>
<circle cx="540.8" cy="361.6" r="6.35" stroke="#b8ab5b"/>
<circle cx="536.3" cy="370.7" r="6.35" stroke="#6dc180"/>
<circle cx="542.4" cy="370.7" r="6.35" stroke="#3cbb98"/>
<circle cx="554.5" cy="368.6" r="6.35" stroke="#6dc180"/>
<circle cx="560.6" cy="364.6" r="6.35" stroke="#6dc180"/>
<circle cx="572.2" cy="366.1" r="6.35" stroke="#9cb866"/>
<circle cx="554.0" cy="379.8" r="6.35" stroke="#3cbb98"/>
<circle cx="589.9" cy="374.7" r="6.35" stroke="#f7b241"/>
<circle cx="601.0" cy="386.3" r="6.35" stroke="#f7b241"/>
<circle cx="525.2" cy="383.8" r="6.35" stroke="#3cbb98"/>
<circle cx="523.1" cy="397.5" r="6.35" stroke="#6dc180"/>
<circle cx="536.8" cy="397.5" r="6.35" stroke="#6dc180"/>
<circle cx="529.7" cy="419.7" r="6.35" stroke="#f2c933"/>
<circle cx="538.8" cy="437.4" r="6.35" stroke="#3cbb98"/>
<circle cx="556.5" cy="434.9" r="6.35" stroke="#9cb866"/>
<circle cx="596.5" cy="423.8" r="6.35" stroke="#f7b241"/>
<circle cx="567.1" cy="494.5" r="6.35" stroke="#f7b241"/>
<circle cx="576.2" cy="495.6" r="6.35" stroke="#e5df3c"/>
<circle cx="604.5" cy="492.5" r="6.35" stroke="#3cbb98"/>
<circle cx="534.3" cy="535.0" r="6.35" stroke="#f2c933"/>
<circle cx="565.1" cy="537.0" r="6.35" stroke="#e5df3c"/>
<circle cx="569.7" cy="587.1" r="6.35" stroke="#12a8cc"/>
<circle cx="651.6" cy="157.8" r="6.35" stroke="#3cbb98"/>
<circle cx="658.6" cy="173.5" r="6.35" stroke="#3cbb98"/>
<circle cx="673.8" cy="173.5" r="6.35" stroke="#6dc180"/>
<circle cx="697.1" cy="151.2" r="6.35" stroke="#3cbb98"/>
<circle cx="691.5" cy="163.4" r="6.35" stroke="#3cbb98"/>
<circle cx="689.5" cy="171.5" r="6.35" stroke="#3cbb98"/>
<circle cx="695.0" cy="176.5" r="6.35" stroke="#3cbb98"/>
<circle cx="618.2" cy="180.1" r="6.35" stroke="#3cbb98"/>
<circle cx="649.5" cy="190.7" r="6.35" stroke="#3cbb98"/>
<circle cx="639.9" cy="197.2" r="6.35" stroke="#1fb5ae"/>
<circle cx="651.6" cy="199.8" r="6.35" stroke="#6dc180"/>
<circle cx="627.3" cy="210.9" r="6.35" stroke="#9cb866"/>
<circle cx="630.3" cy="208.9" r="6.35" stroke="#3cbb98"/>
<circle cx="647.5" cy="211.9" r="6.35" stroke="#3cbb98"/>
<circle cx="678.4" cy="192.7" r="6.35" stroke="#3cbb98"/>
<circle cx="692.0" cy="190.7" r="6.35" stroke="#3cbb98"/>
<circle cx="672.8" cy="205.8" r="6.35" stroke="#3cbb98"/>
<circle cx="679.9" cy="202.8" r="6.35" stroke="#3cbb98"/>
<circle cx="689.0" cy="207.9" r="6.35" stroke="#3b4aa2"/>
<circle cx="697.1" cy="199.8" r="6.35" stroke="#6dc180"/>
<circle cx="662.7" cy="212.9" r="6.35" stroke="#3cbb98"/>
<circle cx="638.4" cy="223.0" r="6.35" stroke="#3cbb98"/>
<circle cx="630.3" cy="226.1" r="6.35" stroke="#3cbb98"/>
<circle cx="660.7" cy="224.0" r="6.35" stroke="#3cbb98"/>
<circle cx="670.8" cy="221.0" r="6.35" stroke="#3cbb98"/>
<circle cx="678.9" cy="219.0" r="6.35" stroke="#3cbb98"/>
<circle cx="694.0" cy="218.0" r="6.35" stroke="#12a8cc"/>
<circle cx="697.1" cy="225.0" r="6.35" stroke="#12a8cc"/>
<circle cx="685.9" cy="226.1" r="6.35" stroke="#3cbb98"/>
<circle cx="632.4" cy="230.1" r="6.35" stroke="#3cbb98"/>
<circle cx="645.5" cy="235.2" r="6.35" stroke="#3cbb98"/>
<circle cx="650.6" cy="226.1" r="6.35" stroke="#3cbb98"/>
<circle cx="660.7" cy="244.3" r="6.35" stroke="#6dc180"/>
<circle cx="654.6" cy="233.1" r="6.35" stroke="#3cbb98"/>
<circle cx="670.8" cy="228.1" r="6.35" stroke="#3cbb98"/>
<circle cx="680.9" cy="224.0" r="6.35" stroke="#1fb5ae"/>
<circle cx="670.8" cy="240.2" r="6.35" stroke="#1fb5ae"/>
<circle cx="689.0" cy="242.2" r="6.35" stroke="#3cbb98"/>
<circle cx="696.1" cy="230.1" r="6.35" stroke="#1fb5ae"/>
<circle cx="697.1" cy="250.3" r="6.35" stroke="#1fb5ae"/>
<circle cx="666.7" cy="260.4" r="6.35" stroke="#1fb5ae"/>
<circle cx="674.8" cy="260.4" r="6.35" stroke="#1fb5ae"/>
<circle cx="680.9" cy="266.5" r="6.35" stroke="#1fb5ae"/>
<circle cx="672.8" cy="265.5" r="6.35" stroke="#1fb5ae"/>
<circle cx="625.3" cy="233.1" r="6.35" stroke="#1fb5ae"/>
<circle cx="688.0" cy="235.2" r="6.35" stroke="#1fb5ae"/>
<circle cx="677.9" cy="249.3" r="6.35" stroke="#3cbb98"/>
<circle cx="620.7" cy="353.0" r="6.35" stroke="#f7b241"/>
<circle cx="638.4" cy="357.5" r="6.35" stroke="#f7b241"/>
<circle cx="667.2" cy="353.0" r="6.35" stroke="#6dc180"/>
<circle cx="687.5" cy="377.2" r="6.35" stroke="#6dc180"/>
<circle cx="660.7" cy="404.0" r="6.35" stroke="#f7b241"/>
<circle cx="614.2" cy="439.4" r="6.35" stroke="#f7b241"/>
<circle cx="627.3" cy="442.0" r="6.35" stroke="#1fb5ae"/>
<circle cx="778.0" cy="117.6" r="6.35" stroke="#3cbb98"/>
<circle cx="784.0" cy="125.7" r="6.35" stroke="#3cbb98"/>
<circle cx="742.6" cy="133.3" r="6.35" stroke="#3cbb98"/>
<circle cx="744.6" cy="151.0" r="6.35" stroke="#3cbb98"/>
<circle cx="731.5" cy="155.6" r="6.35" stroke="#6dc180"/>
<circle cx="775.9" cy="137.9" r="6.35" stroke="#3cbb98"/>
<circle cx="786.1" cy="134.8" r="6.35" stroke="#12a8cc"/>
<circle cx="788.1" cy="139.9" r="6.35" stroke="#6dc180"/>
<circle cx="762.8" cy="148.0" r="6.35" stroke="#3cbb98"/>
<circle cx="755.7" cy="152.0" r="6.35" stroke="#1fb5ae"/>
<circle cx="773.9" cy="144.9" r="6.35" stroke="#3cbb98"/>
<circle cx="783.0" cy="154.0" r="6.35" stroke="#3cbb98"/>
<circle cx="693.0" cy="159.1" r="6.35" stroke="#3cbb98"/>
<circle cx="710.2" cy="159.6" r="6.35" stroke="#3cbb98"/>
<circle cx="755.7" cy="162.1" r="6.35" stroke="#3cbb98"/>
<circle cx="768.9" cy="155.1" r="6.35" stroke="#3cbb98"/>
<circle cx="783.0" cy="162.1" r="6.35" stroke="#3cbb98"/>
<circle cx="766.8" cy="171.2" r="6.35" stroke="#3cbb98"/>
<circle cx="711.7" cy="166.2" r="6.35" stroke="#3cbb98"/>
<circle cx="729.4" cy="175.3" r="6.35" stroke="#3cbb98"/>
<circle cx="714.3" cy="180.3" r="6.35" stroke="#3cbb98"/>
<circle cx="718.8" cy="184.9" r="6.35" stroke="#3cbb98"/>
<circle cx="705.2" cy="199.5" r="6.35" stroke="#6dc180"/>
<circle cx="722.4" cy="201.6" r="6.35" stroke="#3cbb98"/>
<circle cx="742.6" cy="196.0" r="6.35" stroke="#3cbb98"/>
<circle cx="738.5" cy="204.6" r="6.35" stroke="#3cbb98"/>
<circle cx="743.1" cy="209.7" r="6.35" stroke="#3cbb98"/>
<circle cx="764.8" cy="185.4" r="6.35" stroke="#1fb5ae"/>
<circle cx="767.9" cy="181.3" r="6.35" stroke="#1fb5ae"/>
<circle cx="707.2" cy="210.7" r="6.35" stroke="#3cbb98"/>
<circle cx="698.1" cy="218.8" r="6.35" stroke="#3cbb98"/>
<circle cx="694.0" cy="210.7" r="6.35" stroke="#12a8cc"/>
<circle cx="707.2" cy="230.9" r="6.35" stroke="#3cbb98"/>
<circle cx="696.1" cy="237.0" r="6.35" stroke="#12a8cc"/>
<circle cx="702.1" cy="246.1" r="6.35" stroke="#3cbb98"/>
<circle cx="643.2" cy="226.4" r="6.35" stroke="#3cbb98"/>
<circle cx="717.7" cy="204.6" r="6.35" stroke="#3cbb98"/>
<circle cx="666.7" cy="232.9" r="6.35" stroke="#3cbb98"/>
<circle cx="649.7" cy="238.5" r="6.35" stroke="#3cbb98"/>
<circle cx="811.3" cy="66.7" r="6.35" stroke="#1fb5ae"/>
<circle cx="840.2" cy="95.5" r="6.35" stroke="#12a8cc"/>
<circle cx="855.8" cy="94.5" r="6.35" stroke="#6dc180"/>
<circle cx="854.8" cy="100.6" r="6.35" stroke="#3cbb98"/>
<circle cx="853.8" cy="105.1" r="6.35" stroke="#12a8cc"/>
<circle cx="813.9" cy="110.7" r="6.35" stroke="#6dc180"/>
<circle cx="820.4" cy="109.2" r="6.35" stroke="#12a8cc"/>
<circle cx="871.5" cy="122.3" r="6.35" stroke="#3cbb98"/>
<circle cx="818.4" cy="124.8" r="6.35" stroke="#6dc180"/>
<circle cx="835.6" cy="123.8" r="6.35" stroke="#6dc180"/>
<circle cx="806.8" cy="131.9" r="6.35" stroke="#3cbb98"/>
<circle cx="816.4" cy="132.9" r="6.35" stroke="#6dc180"/>
<circle cx="833.6" cy="130.9" r="6.35" stroke="#3cbb98"/>
<circle cx="793.1" cy="141.0" r="6.35" stroke="#6dc180"/>
<circle cx="807.3" cy="141.0" r="6.35" stroke="#3cbb98"/>
<circle cx="830.6" cy="141.0" r="6.35" stroke="#3cbb98"/>
<circle cx="842.7" cy="141.0" r="6.35" stroke="#6dc180"/>
<circle cx="815.4" cy="147.1" r="6.35" stroke="#6dc180"/>
<circle cx="850.8" cy="149.6" r="6.35" stroke="#6dc180"/>
<circle cx="876.1" cy="149.6" r="6.35" stroke="#6dc180"/>
<circle cx="782.0" cy="141.0" r="6.35" stroke="#1fb5ae"/>
<circle cx="831.6" cy="156.2" r="6.35" stroke="#3cbb98"/>
<circle cx="875.0" cy="155.7" r="6.35" stroke="#6dc180"/>
<circle cx="838.1" cy="204.7" r="6.35" stroke="#3cbb98"/>
<circle cx="859.9" cy="239.6" r="6.35" stroke="#3cbb98"/>
<circle cx="888.8" cy="84.9" r="6.35" stroke="#6dc180"/>
<circle cx="935.5" cy="84.9" r="6.35" stroke="#6dc180"/>
<circle cx="893.7" cy="124.3" r="6.35" stroke="#6dc180"/>
<circle cx="944.6" cy="138.3" r="6.35" stroke="#3cbb98"/>
<circle cx="931.3" cy="153.7" r="6.35" stroke="#6dc180"/>
<circle cx="904.6" cy="162.8" r="6.35" stroke="#6dc180"/>
<circle cx="964.6" cy="180.4" r="6.35" stroke="#3cbb98"/>
<circle cx="893.7" cy="211.3" r="6.35" stroke="#2b87c8"/>
<circle cx="510.3" cy="170.9" r="6.35" stroke="#3cbb98"/>
<circle cx="523.1" cy="177.6" r="6.35" stroke="#3cbb98"/>
<circle cx="517.6" cy="193.4" r="6.35" stroke="#1fb5ae"/>
<circle cx="536.4" cy="190.9" r="6.35" stroke="#1fb5ae"/>
<circle cx="552.2" cy="184.3" r="6.35" stroke="#2f6db4"/>
<circle cx="563.1" cy="168.5" r="6.35" stroke="#6dc180"/>
<circle cx="592.2" cy="173.3" r="6.35" stroke="#12a8cc"/>
<circle cx="572.2" cy="180.0" r="6.35" stroke="#2f6db4"/>
<circle cx="577.7" cy="188.5" r="6.35" stroke="#12a8cc"/>
<circle cx="566.7" cy="190.9" r="6.35" stroke="#12a8cc"/>
<circle cx="591.0" cy="187.3" r="6.35" stroke="#2f6db4"/>
<circle cx="605.6" cy="188.5" r="6.35" stroke="#3cbb98"/>
<circle cx="605.6" cy="197.6" r="6.35" stroke="#3cbb98"/>
<circle cx="540.0" cy="206.1" r="6.35" stroke="#2f6db4"/>
<circle cx="552.2" cy="200.0" r="6.35" stroke="#1fb5ae"/>
<circle cx="558.2" cy="201.3" r="6.35" stroke="#1fb5ae"/>
<circle cx="575.2" cy="203.7" r="6.35" stroke="#3cbb98"/>
<circle cx="577.7" cy="196.4" r="6.35" stroke="#2f6db4"/>
<circle cx="591.0" cy="208.5" r="6.35" stroke="#3cbb98"/>
<circle cx="597.1" cy="208.5" r="6.35" stroke="#2f6db4"/>
<circle cx="587.4" cy="218.2" r="6.35" stroke="#3cbb98"/>
<circle cx="597.1" cy="218.2" r="6.35" stroke="#2f6db4"/>
<circle cx="606.8" cy="224.3" r="6.35" stroke="#3cbb98"/>
<circle cx="546.1" cy="213.4" r="6.35" stroke="#1fb5ae"/>
<circle cx="557.0" cy="213.4" r="6.35" stroke="#1fb5ae"/>
<circle cx="565.5" cy="214.6" r="6.35" stroke="#12a8cc"/>
<circle cx="542.5" cy="221.9" r="6.35" stroke="#2f6db4"/>
<circle cx="551.0" cy="227.9" r="6.35" stroke="#12a8cc"/>
<circle cx="567.9" cy="227.9" r="6.35" stroke="#1fb5ae"/>
<circle cx="577.7" cy="223.1" r="6.35" stroke="#12a8cc"/>
<circle cx="530.3" cy="227.9" r="6.35" stroke="#2f6db4"/>
<circle cx="587.4" cy="227.9" r="6.35" stroke="#3cbb98"/>
<circle cx="592.2" cy="238.9" r="6.35" stroke="#6dc180"/>
<circle cx="601.0" cy="246.5" r="6.35" stroke="#1fb5ae"/>
<circle cx="591.3" cy="252.1" r="6.35" stroke="#3cbb98"/>
<circle cx="598.6" cy="250.5" r="6.35" stroke="#1fb5ae"/>
<circle cx="614.8" cy="252.1" r="6.35" stroke="#3cbb98"/>
<circle cx="622.9" cy="250.9" r="6.35" stroke="#6dc180"/>
<circle cx="620.4" cy="250.5" r="6.35" stroke="#1fb5ae"/>
<circle cx="639.0" cy="248.9" r="6.35" stroke="#3cbb98"/>
<circle cx="638.2" cy="257.0" r="6.35" stroke="#1fb5ae"/>
<circle cx="651.2" cy="254.6" r="6.35" stroke="#3cbb98"/>
<circle cx="656.0" cy="261.8" r="6.35" stroke="#1fb5ae"/>
<circle cx="590.5" cy="268.7" r="6.35" stroke="#1fb5ae"/>
<circle cx="607.9" cy="265.9" r="6.35" stroke="#9cb866"/>
<circle cx="609.1" cy="268.3" r="6.35" stroke="#12a8cc"/>
<circle cx="621.3" cy="266.7" r="6.35" stroke="#6dc180"/>
<circle cx="598.6" cy="282.1" r="6.35" stroke="#1fb5ae"/>
<circle cx="609.9" cy="280.0" r="6.35" stroke="#9cb866"/>
<circle cx="598.2" cy="295.8" r="6.35" stroke="#b8ab5b"/>
<circle cx="605.9" cy="297.8" r="6.35" stroke="#b8ab5b"/>
<circle cx="601.0" cy="301.5" r="6.35" stroke="#6dc180"/>
<circle cx="625.3" cy="301.9" r="6.35" stroke="#3cbb98"/>
<circle cx="640.7" cy="311.2" r="6.35" stroke="#f7b241"/>
<circle cx="509.0" cy="246.5" r="6.35" stroke="#3b4aa2"/>
<circle cx="503.0" cy="251.0" r="6.35" stroke="#1fb5ae"/>
<circle cx="517.0" cy="244.0" r="6.35" stroke="#2f6db4"/>
<circle cx="523.0" cy="250.0" r="6.35" stroke="#12a8cc"/>
<circle cx="525.0" cy="257.0" r="6.35" stroke="#2b87c8"/>
<circle cx="530.0" cy="243.0" r="6.35" stroke="#2b87c8"/>
<circle cx="540.0" cy="245.0" r="6.35" stroke="#2b87c8"/>
<circle cx="541.0" cy="256.0" r="6.35" stroke="#3cbb98"/>
<circle cx="550.0" cy="257.0" r="6.35" stroke="#12a8cc"/>
<circle cx="546.0" cy="267.0" r="6.35" stroke="#3cbb98"/>
<circle cx="556.5" cy="268.5" r="6.35" stroke="#2f6db4"/>
<circle cx="564.0" cy="266.0" r="6.35" stroke="#9cb866"/>
<circle cx="552.0" cy="236.0" r="6.35" stroke="#12a8cc"/>
<circle cx="560.0" cy="242.0" r="6.35" stroke="#12a8cc"/>
<circle cx="578.0" cy="239.0" r="6.35" stroke="#3cbb98"/>
<circle cx="570.0" cy="250.0" r="6.35" stroke="#1fb5ae"/>
<circle cx="573.0" cy="258.0" r="6.35" stroke="#3cbb98"/>
<circle cx="580.0" cy="268.0" r="6.35" stroke="#1fb5ae"/>
<circle cx="512.0" cy="276.0" r="6.35" stroke="#2b87c8"/>
<circle cx="529.0" cy="276.0" r="6.35" stroke="#2f6db4"/>
<circle cx="514.0" cy="289.0" r="6.35" stroke="#1fb5ae"/>
<circle cx="507.0" cy="290.0" r="6.35" stroke="#2b87c8"/>
<circle cx="534.0" cy="289.0" r="6.35" stroke="#3b4aa2"/>
<circle cx="542.0" cy="279.0" r="6.35" stroke="#1fb5ae"/>
<circle cx="550.0" cy="290.0" r="6.35" stroke="#6dc180"/>
<circle cx="558.0" cy="278.0" r="6.35" stroke="#1fb5ae"/>
<circle cx="570.0" cy="286.0" r="6.35" stroke="#1fb5ae"/>
<circle cx="567.0" cy="295.0" r="6.35" stroke="#6dc180"/>
<circle cx="519.0" cy="295.0" r="6.35" stroke="#12a8cc"/>
<circle cx="585.0" cy="255.0" r="6.35" stroke="#3cbb98"/>
<circle cx="535.0" cy="257.0" r="6.35" stroke="#1fb5ae"/>
<circle cx="228.6" cy="297.4" r="6.35" stroke="#2b87c8"/>
<circle cx="238.3" cy="288.9" r="6.35" stroke="#2f6db4"/>
<circle cx="243.6" cy="302.2" r="6.35" stroke="#2b87c8"/>
<circle cx="256.5" cy="304.7" r="6.35" stroke="#3b4aa2"/>
<circle cx="252.5" cy="283.2" r="6.35" stroke="#1fb5ae"/>
</g>
<path d="M103,769.1 L103,12.9" stroke="#7d7d7d" stroke-width="1.8" fill="none"/>
<path d="M102.1,12.9 L983.6,12.9" stroke="#505050" stroke-width="1.6" fill="none"/>
<path d="M983.6,12.1 L983.6,769.8" stroke="#231f20" stroke-width="1.2" fill="none"/>
<path d="M102.1,769.1 L984.2,769.1" stroke="#3a3a3a" stroke-width="1.5" fill="none"/>
<text x="92.3" y="776.7" font-size="29.5" text-anchor="end">0</text>
<path d="M103.9,685.1 L112,685.1" stroke="#4a4a4a" stroke-width="1.3"/>
<text x="92.3" y="692.7" font-size="29.5" text-anchor="end">10</text>
<path d="M103.9,601.1 L112,601.1" stroke="#4a4a4a" stroke-width="1.3"/>
<text x="92.3" y="608.7" font-size="29.5" text-anchor="end">20</text>
<path d="M103.9,517.0 L112,517.0" stroke="#4a4a4a" stroke-width="1.3"/>
<text x="92.3" y="524.6" font-size="29.5" text-anchor="end">30</text>
<path d="M103.9,433.0 L112,433.0" stroke="#4a4a4a" stroke-width="1.3"/>
<text x="92.3" y="440.6" font-size="29.5" text-anchor="end">40</text>
<path d="M103.9,349.0 L112,349.0" stroke="#4a4a4a" stroke-width="1.3"/>
<text x="92.3" y="356.6" font-size="29.5" text-anchor="end">50</text>
<path d="M103.9,265.0 L112,265.0" stroke="#4a4a4a" stroke-width="1.3"/>
<text x="92.3" y="272.6" font-size="29.5" text-anchor="end">60</text>
<path d="M103.9,180.9 L112,180.9" stroke="#4a4a4a" stroke-width="1.3"/>
<text x="92.3" y="188.5" font-size="29.5" text-anchor="end">70</text>
<path d="M103.9,96.9 L112,96.9" stroke="#4a4a4a" stroke-width="1.3"/>
<text x="92.3" y="104.5" font-size="29.5" text-anchor="end">80</text>
<text x="92.3" y="20.5" font-size="29.5" text-anchor="end">90</text>
<text x="102.0" y="800" font-size="29.5" text-anchor="middle">0.1</text>
<path d="M249.7,768.4 L249.7,760" stroke="#3a3a3a" stroke-width="1.3"/>
<text x="248.7" y="800" font-size="29.5" text-anchor="middle">0.2</text>
<path d="M396.4,768.4 L396.4,760" stroke="#3a3a3a" stroke-width="1.3"/>
<text x="395.4" y="800" font-size="29.5" text-anchor="middle">0.3</text>
<path d="M543.0,768.4 L543.0,760" stroke="#3a3a3a" stroke-width="1.3"/>
<text x="542.0" y="800" font-size="29.5" text-anchor="middle">0.4</text>
<path d="M689.7,768.4 L689.7,760" stroke="#3a3a3a" stroke-width="1.3"/>
<text x="688.7" y="800" font-size="29.5" text-anchor="middle">0.5</text>
<path d="M836.4,768.4 L836.4,760" stroke="#3a3a3a" stroke-width="1.3"/>
<text x="835.4" y="800" font-size="29.5" text-anchor="middle">0.6</text>
<text x="982.1" y="800" font-size="29.5" text-anchor="middle">0.7</text>
<text transform="translate(980.6,765) rotate(-90)" font-size="13" style="stroke-width:0.2px">9491</text>
<text x="316.5" y="842.6" font-size="36" textLength="442" lengthAdjust="spacingAndGlyphs">Rainfall frequency [λ<tspan font-size="21" dy="12">w</tspan><tspan dy="-12">, d</tspan><tspan font-size="22" dy="-12">-1</tspan><tspan dy="12">]</tspan></text>
<text transform="translate(28.2,507.5) rotate(-90)" font-size="36" textLength="237" lengthAdjust="spacingAndGlyphs">% Grass cover</text>
<g shape-rendering="crispEdges">
<rect x="162" y="865" width="12" height="45" fill="#413e9a"/>
<rect x="174" y="865" width="11" height="45" fill="#3e449f"/>
<rect x="185" y="865" width="12" height="45" fill="#3b4aa5"/>
<rect x="197" y="865" width="12" height="45" fill="#3a4ea6"/>
<rect x="209" y="865" width="12" height="45" fill="#3852a8"/>
<rect x="221" y="865" width="11" height="45" fill="#3755a9"/>
<rect x="232" y="865" width="12" height="45" fill="#3658aa"/>
<rect x="244" y="865" width="12" height="45" fill="#345dac"/>
<rect x="256" y="865" width="12" height="45" fill="#3261ae"/>
<rect x="268" y="865" width="11" height="45" fill="#3066b0"/>
<rect x="279" y="865" width="12" height="45" fill="#2f6ab1"/>
<rect x="291" y="865" width="12" height="45" fill="#2f6cb3"/>
<rect x="303" y="865" width="11" height="45" fill="#2f6eb4"/>
<rect x="314" y="865" width="12" height="45" fill="#2f71b5"/>
<rect x="326" y="865" width="12" height="45" fill="#2f74b7"/>
<rect x="338" y="865" width="12" height="45" fill="#3078ba"/>
<rect x="350" y="865" width="11" height="45" fill="#307cbc"/>
<rect x="361" y="865" width="12" height="45" fill="#3180be"/>
<rect x="373" y="865" width="12" height="45" fill="#3084c0"/>
<rect x="385" y="865" width="11" height="45" fill="#2e87c3"/>
<rect x="396" y="865" width="12" height="45" fill="#2d8bc5"/>
<rect x="408" y="865" width="12" height="45" fill="#2b8fc7"/>
<rect x="420" y="865" width="12" height="45" fill="#2694c8"/>
<rect x="432" y="865" width="11" height="45" fill="#209ac9"/>
<rect x="443" y="865" width="12" height="45" fill="#1aa0cb"/>
<rect x="455" y="865" width="12" height="45" fill="#14a5cc"/>
<rect x="467" y="865" width="12" height="45" fill="#10a9ca"/>
<rect x="479" y="865" width="11" height="45" fill="#0dadc7"/>
<rect x="490" y="865" width="12" height="45" fill="#11b1c0"/>
<rect x="502" y="865" width="12" height="45" fill="#17b4b8"/>
<rect x="514" y="865" width="11" height="45" fill="#1eb7b2"/>
<rect x="525" y="865" width="12" height="45" fill="#25b7ae"/>
<rect x="537" y="865" width="12" height="45" fill="#2cb8a9"/>
<rect x="549" y="865" width="12" height="45" fill="#34b9a5"/>
<rect x="561" y="865" width="11" height="45" fill="#3bbb9f"/>
<rect x="572" y="865" width="12" height="45" fill="#43bc9a"/>
<rect x="584" y="865" width="12" height="45" fill="#4abd95"/>
<rect x="596" y="865" width="12" height="45" fill="#54be8f"/>
<rect x="608" y="865" width="11" height="45" fill="#5fc08a"/>
<rect x="619" y="865" width="12" height="45" fill="#6ac184"/>
<rect x="631" y="865" width="12" height="45" fill="#75c37f"/>
<rect x="643" y="865" width="11" height="45" fill="#7fc179"/>
<rect x="654" y="865" width="12" height="45" fill="#89bf74"/>
<rect x="666" y="865" width="12" height="45" fill="#93bd6f"/>
<rect x="678" y="865" width="12" height="45" fill="#9dbb6a"/>
<rect x="690" y="865" width="11" height="45" fill="#a6b767"/>
<rect x="701" y="865" width="12" height="45" fill="#aeb364"/>
<rect x="713" y="865" width="12" height="45" fill="#b6af60"/>
<rect x="725" y="865" width="12" height="45" fill="#beac5d"/>
<rect x="737" y="865" width="11" height="45" fill="#c8ac5a"/>
<rect x="748" y="865" width="12" height="45" fill="#d1ac57"/>
<rect x="760" y="865" width="12" height="45" fill="#dbac55"/>
<rect x="772" y="865" width="11" height="45" fill="#e4ad51"/>
<rect x="783" y="865" width="12" height="45" fill="#eeb04c"/>
<rect x="795" y="865" width="12" height="45" fill="#f7b248"/>
<rect x="807" y="865" width="12" height="45" fill="#fab446"/>
<rect x="819" y="865" width="11" height="45" fill="#fbb844"/>
<rect x="830" y="865" width="12" height="45" fill="#fbbf41"/>
<rect x="842" y="865" width="12" height="45" fill="#fac53e"/>
<rect x="854" y="865" width="12" height="45" fill="#f7cc3a"/>
<rect x="866" y="865" width="11" height="45" fill="#f4d236"/>
<rect x="877" y="865" width="12" height="45" fill="#efd73b"/>
<rect x="889" y="865" width="12" height="45" fill="#ebdc40"/>
<rect x="901" y="865" width="11" height="45" fill="#e6e145"/>
</g>
<path d="M192.5,909.8 L192.5,902.3" stroke="#231f20" stroke-width="1.2"/>
<text x="189.0" y="945" font-size="26.5" text-anchor="middle" letter-spacing="0.3">0.6</text>
<path d="M281.9,909.8 L281.9,902.3" stroke="#231f20" stroke-width="1.2"/>
<text x="278.4" y="945" font-size="26.5" text-anchor="middle" letter-spacing="0.3">0.7</text>
<path d="M371.3,909.8 L371.3,902.3" stroke="#231f20" stroke-width="1.2"/>
<text x="367.8" y="945" font-size="26.5" text-anchor="middle" letter-spacing="0.3">0.8</text>
<path d="M460.7,909.8 L460.7,902.3" stroke="#231f20" stroke-width="1.2"/>
<text x="457.2" y="945" font-size="26.5" text-anchor="middle" letter-spacing="0.3">0.9</text>
<path d="M550.1,909.8 L550.1,902.3" stroke="#231f20" stroke-width="1.2"/>
<text x="546.6" y="945" font-size="26.5" text-anchor="middle" letter-spacing="0.3">1</text>
<path d="M639.5,909.8 L639.5,902.3" stroke="#231f20" stroke-width="1.2"/>
<text x="636.0" y="945" font-size="26.5" text-anchor="middle" letter-spacing="0.3">1.1</text>
<path d="M728.9,909.8 L728.9,902.3" stroke="#231f20" stroke-width="1.2"/>
<text x="725.4" y="945" font-size="26.5" text-anchor="middle" letter-spacing="0.3">1.2</text>
<path d="M818.3,909.8 L818.3,902.3" stroke="#231f20" stroke-width="1.2"/>
<text x="814.8" y="945" font-size="26.5" text-anchor="middle" letter-spacing="0.3">1.3</text>
<path d="M907.7,909.8 L907.7,902.3" stroke="#231f20" stroke-width="1.2"/>
<text x="904.2" y="945" font-size="26.5" text-anchor="middle" letter-spacing="0.3">1.4</text>
<text x="289.5" y="980" font-size="35" textLength="493" lengthAdjust="spacingAndGlyphs">Rainfall seasonality Index (SI)</text>
</svg></body></html>
